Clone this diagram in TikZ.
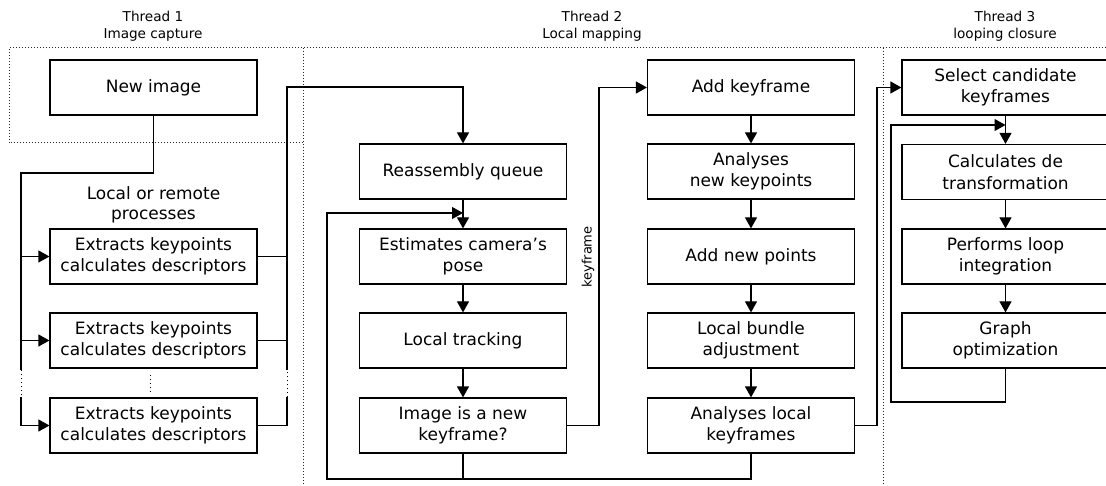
\documentclass[tikz,border=0pt]{standalone}
\usepackage{fontspec}
\setmainfont{DejaVu Sans}
\usetikzlibrary{arrows.meta}
\begin{document}
\begin{tikzpicture}[x=1pt,y=-1pt,
  box/.style={draw, line width=1.2pt, minimum width=207pt, minimum height=55pt,
    align=center, inner sep=0pt, font=\fontsize{17}{21.5}\selectfont},
  conn/.style={line width=1.2pt},
  arr/.style={conn, -{Triangle[length=11pt,width=12pt]}},
  frame/.style={line width=1pt, dash pattern=on 1pt off 2pt, black!85},
  gap/.style={line width=1pt, dash pattern=on 1pt off 3pt},
  hdr/.style={align=center, font=\fontsize{13.6}{17}\selectfont},
  note/.style={align=center, font=\fontsize{17}{20}\selectfont}]
\useasboundingbox (0,0) rectangle (1106,486);

% thread frames
\draw[frame] (1106,48) -- (9,48) -- (9,143) -- (303,143);
\draw[frame] (303,48) -- (303,486);
\draw[frame] (883,48) -- (883,486);

% headers
\node[hdr] (h1) at (153,26) {Thread 1\\Image capture};
\node[hdr] (h2) at (592,26) {Thread 2\\Local mapping};
\node[hdr] (h3) at (1005,26) {Thread 3\\looping closure};

% thread 1
\node[box] (newimg) at (153.5,87.5) {New image};
\node[note] (proc) at (153.5,205) {Local or remote\\processes};
\node[box] (ext1) at (153.5,256.5) {Extracts keypoints\\calculates descriptors};
\node[box] (ext2) at (153.5,340.5) {Extracts keypoints\\calculates descriptors};
\node[box] (ext3) at (153.5,425.5) {Extracts keypoints\\calculates descriptors};

% thread 2, first column
\node[box] (reasm) at (463,171.5) {Reassembly queue};
\node[box] (est) at (463,256.5) {Estimates camera\symbol{39}s\\pose};
\node[box] (track) at (463,340.5) {Local tracking};
\node[box] (isnew) at (463,425.5) {Image is a new\\keyframe?};

% thread 2, second column
\node[box] (addkf) at (751,87.5) {Add keyframe};
\node[box] (annew) at (751,171.5) {Analyses\\new keypoints};
\node[box] (addpts) at (751,256.5) {Add new points};
\node[box] (lba) at (751,340.5) {Local bundle\\adjustment};
\node[box] (alk) at (751,425.5) {Analyses local\\keyframes};

% thread 3
\node[box] (selc) at (1005.5,87.5) {Select candidate\\keyframes};
\node[box] (calc) at (1005.5,172) {Calculates de\\transformation};
\node[box] (perf) at (1005.5,256.5) {Performs loop\\integration};
\node[box] (graph) at (1005.5,340.5) {Graph\\optimization};

% distribution bus to the worker processes
\coordinate (lt) at (21,173);
\coordinate (lg1) at (21,370);
\coordinate (lg2) at (21,397);
\draw[conn] (newimg.south) |- (lt) -- (lg1);
\draw[gap] (lg1) -- (lg2);
\draw[arr] (lg2) |- (ext3.west);
\draw[arr] (lt |- ext1.west) -- (ext1.west);
\draw[arr] (lt |- ext2.west) -- (ext2.west);
\coordinate (md1) at (150,375);
\coordinate (md2) at (150,393);
\draw[gap] (md1) -- (md2);

% collecting bus to the reassembly queue
\coordinate (rt) at (287,87);
\coordinate (rg1) at (287,370);
\coordinate (rg2) at (287,397);
\draw[conn] (ext1.east) -- (ext1.east -| rt);
\draw[conn] (ext2.east) -- (ext2.east -| rt);
\draw[conn] (ext3.east) -| (rg2);
\draw[gap] (rg2) -- (rg1);
\draw[arr] (rg1) -- (rt) -| (reasm.north);

% tracking chain
\draw[arr] (reasm.south) -- (est.north);
\draw[arr] (est) -- (track);
\draw[arr] (track) -- (isnew);

% back to pose estimation
\coordinate (lb) at (327,479);
\coordinate (lj) at (463,213);
\draw[conn] (isnew.south) -- (isnew.south |- lb);
\draw[arr] (alk.south) |- (lb) |- (lj);

% new keyframe to mapping
\coordinate (kc) at (599,0);
\draw[arr] (isnew.east) -| (kc |- addkf.west) -- (addkf.west);
\node[rotate=90, font=\fontsize{13}{15}\selectfont] (kflabel) at (588,257) {keyframe};

% mapping chain
\draw[arr] (addkf) -- (annew);
\draw[arr] (annew) -- (addpts);
\draw[arr] (addpts) -- (lba);
\draw[arr] (lba) -- (alk);

% mapping to loop closing
\coordinate (lc) at (877,0);
\draw[arr] (alk.east) -| (lc |- selc.west) -- (selc.west);

% loop closing chain
\draw[arr] (selc) -- (calc);
\draw[arr] (calc) -- (perf);
\draw[arr] (perf) -- (graph);
\coordinate (gb) at (891,402);
\coordinate (gj) at (1005.5,125);
\draw[arr] (graph.south) |- (gb) |- (gj);
\end{tikzpicture}
\end{document}
